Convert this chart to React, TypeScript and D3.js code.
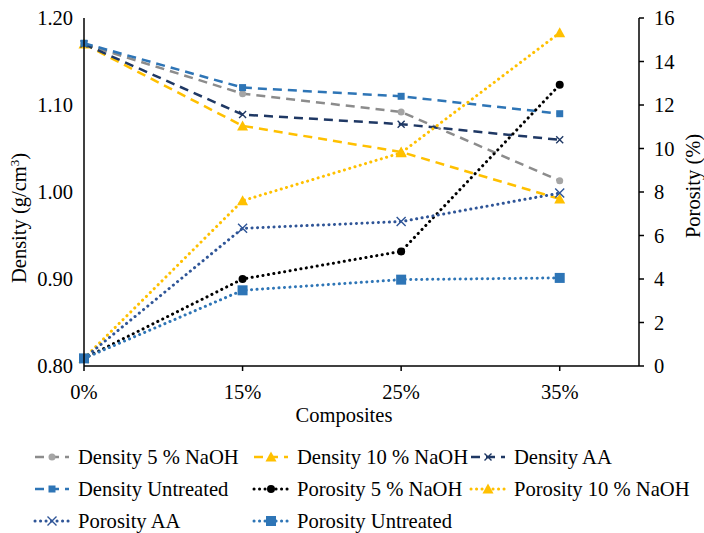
import React from "react";
import * as d3 from "d3";

const categories = ["0%", "15%", "25%", "35%"];
const density5 = [1.17, 1.113, 1.092, 1.013];
const density10 = [1.17, 1.076, 1.046, 0.992];
const densityAA = [1.17, 1.089, 1.078, 1.06];
const densityUntreated = [1.171, 1.12, 1.11, 1.09];
const porosity5 = [0.35, 4.0, 5.27, 12.93];
const porosity10 = [0.35, 7.6, 9.8, 15.32];
const porosityAA = [0.35, 6.33, 6.64, 7.95];
const porosityUntreated = [0.35, 3.48, 3.97, 4.05];
const leftTicks = [0.8, 0.9, 1.0, 1.1, 1.2];
const rightTicks = [0, 2, 4, 6, 8, 10, 12, 14, 16];

type Marker = "circle" | "triangle" | "x" | "square";
interface Series {
  name: string;
  values: number[];
  axis: "left" | "right";
  color: string;
  markerColor: string;
  dash: "dash" | "dot";
  marker: Marker;
  size: number;
}

const series: Series[] = [
  { name: "Density 5 % NaOH", values: density5, axis: "left", color: "#8c8c8c", markerColor: "#a5a5a5", dash: "dash", marker: "circle", size: 7 },
  { name: "Density 10 % NaOH", values: density10, axis: "left", color: "#ffc000", markerColor: "#ffc000", dash: "dash", marker: "triangle", size: 9 },
  { name: "Density AA", values: densityAA, axis: "left", color: "#1f3864", markerColor: "#1f3864", dash: "dash", marker: "x", size: 7 },
  { name: "Density Untreated", values: densityUntreated, axis: "left", color: "#2e75b6", markerColor: "#2e75b6", dash: "dash", marker: "square", size: 7 },
  { name: "Porosity 5 % NaOH", values: porosity5, axis: "right", color: "#000000", markerColor: "#000000", dash: "dot", marker: "circle", size: 8 },
  { name: "Porosity 10 % NaOH", values: porosity10, axis: "right", color: "#ffc000", markerColor: "#ffc000", dash: "dot", marker: "triangle", size: 9 },
  { name: "Porosity AA", values: porosityAA, axis: "right", color: "#2f5597", markerColor: "#2f5597", dash: "dot", marker: "x", size: 9 },
  { name: "Porosity Untreated", values: porosityUntreated, axis: "right", color: "#2e75b6", markerColor: "#2e75b6", dash: "dot", marker: "square", size: 10 },
];

const W = 704;
const H = 533;
const L = 84;
const R = 639;
const T = 18;
const B = 366;
const FONT = "Liberation Serif, DejaVu Serif, serif";
const txt = { fontFamily: FONT, fill: "#000" };

const x = d3.scaleLinear().domain([0, 3.5]).range([L, R]);
const yL = d3.scaleLinear().domain([0.8, 1.2]).range([B, T]);
const yR = d3.scaleLinear().domain([0, 16]).range([B, T]);

function MarkerShape({ m, cx, cy, s, color }: { m: Marker; cx: number; cy: number; s: number; color: string }) {
  if (m === "circle") return <circle cx={cx} cy={cy} r={s / 2} fill={color} />;
  if (m === "square") return <rect x={cx - s / 2} y={cy - s / 2} width={s} height={s} fill={color} />;
  if (m === "triangle") {
    const h = s;
    return <path d={`M${cx},${cy - h / 2 - 1} L${cx + s / 2 + 1},${cy + h / 2} L${cx - s / 2 - 1},${cy + h / 2} Z`} fill={color} />;
  }
  const r = s / 2;
  return (
    <path d={`M${cx - r},${cy - r} L${cx + r},${cy + r} M${cx - r},${cy + r} L${cx + r},${cy - r}`} stroke={color} strokeWidth={1.4} fill="none" />
  );
}

function lineProps(s: Series) {
  return s.dash === "dash"
    ? { strokeDasharray: "9 6", strokeWidth: 2.5, strokeLinecap: "butt" as const }
    : { strokeDasharray: "0.1 5.4", strokeWidth: 3, strokeLinecap: "round" as const };
}

export default function App() {
  const line = d3.line<number>();
  const legendCols = [35, 254, 471];
  const legendRows = [457, 489, 521];
  return (
    <svg width={W} height={H} style={{ position: "absolute", left: 0, top: 0, background: "#fff", fontFamily: FONT }}>
      {series.map((s) => {
        const y = s.axis === "left" ? yL : yR;
        const pts: [number, number][] = s.values.map((v, i) => [x(i), y(v)]);
        return (
          <g key={s.name}>
            <path d={line(pts) || ""} fill="none" stroke={s.color} {...lineProps(s)} />
            {pts.map((p, i) => (
              <MarkerShape key={i} m={s.marker} cx={p[0]} cy={p[1]} s={s.size} color={s.markerColor} />
            ))}
          </g>
        );
      })}
      <line x1={L} x2={L} y1={T} y2={B} stroke="#000" strokeWidth={1.5} />
      <line x1={L} x2={R} y1={B} y2={B} stroke="#000" strokeWidth={1.5} />
      <line x1={R} x2={R} y1={T} y2={B} stroke="#000" strokeWidth={1.5} />
      {categories.map((c, i) => (
        <g key={c}>
          <line x1={x(i)} x2={x(i)} y1={B} y2={B + 5} stroke="#000" strokeWidth={1.5} />
          <text x={x(i)} y={399} fontSize={20.5} textAnchor="middle" style={txt}>{c}</text>
        </g>
      ))}
      {leftTicks.map((t) => (
        <text key={t} x={73} y={yL(t) + 7} fontSize={20.5} textAnchor="end" style={txt}>{t.toFixed(2)}</text>
      ))}
      {rightTicks.map((t) => (
        <g key={t}>
          <line x1={R} x2={R + 5} y1={yR(t)} y2={yR(t)} stroke="#000" strokeWidth={1.5} />
          <text x={654} y={yR(t) + 7} fontSize={20.5} textAnchor="start" style={txt}>{t}</text>
        </g>
      ))}
      <text x={344} y={422} fontSize={20.5} textAnchor="middle" style={txt}>Composites</text>
      <text transform={`translate(26,${218}) rotate(-90)`} fontSize={20.5} textAnchor="middle" style={txt}>
        Density (g/cm<tspan dy={-7} fontSize={13}>3</tspan><tspan dy={7}>)</tspan>
      </text>
      <text transform={`translate(700,${186}) rotate(-90)`} fontSize={20.5} textAnchor="middle" style={txt}>Porosity (%)</text>
      {series.map((s, i) => {
        const col = legendCols[i % 3];
        const row = legendRows[Math.floor(i / 3)];
        return (
          <g key={"lg" + s.name}>
            <line x1={col} x2={col + 34} y1={row} y2={row} stroke={s.color} {...lineProps(s)} />
            <MarkerShape m={s.marker} cx={col + 17} cy={row} s={s.size} color={s.markerColor} />
            <text x={col + 43} y={row + 7} fontSize={20.6} style={txt}>{s.name}</text>
          </g>
        );
      })}
    </svg>
  );
}
